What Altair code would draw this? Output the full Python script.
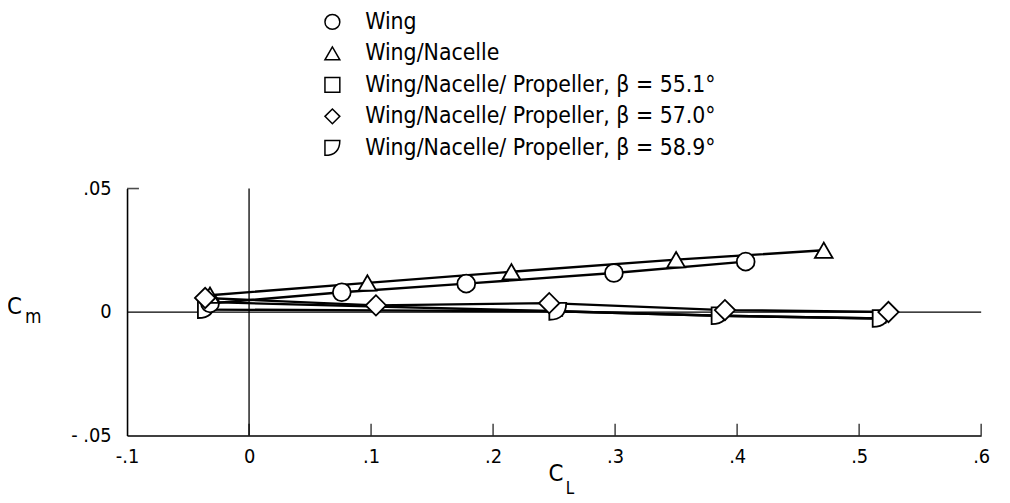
import altair as alt
import pandas as pd

FONT = "DejaVu Sans Condensed, Liberation Sans Narrow, DejaVu Sans"

series_names = [
    "Wing",
    "Wing/Nacelle",
    "Wing/Nacelle/ Propeller, β = 55.1°",
    "Wing/Nacelle/ Propeller, β = 57.0°",
    "Wing/Nacelle/ Propeller, β = 58.9°",
]

# C_L, C_m
wing_cl = [-0.032, 0.076, 0.178, 0.299, 0.407]
wing_cm = [0.0035, 0.0080, 0.0115, 0.0158, 0.0204]

nac_cl = [-0.032, 0.097, 0.215, 0.350, 0.471]
nac_cm = [0.0068, 0.0118, 0.0163, 0.0212, 0.0250]

p551_cl = [-0.032, 0.253, 0.386, 0.518]
p551_cm = [0.0040, 0.0003, -0.0015, -0.0026]

p570_cl = [-0.036, 0.104, 0.246, 0.390, 0.524]
p570_cm = [0.0057, 0.0027, 0.0036, 0.0008, 0.0000]

p589_cl = [-0.035, 0.253, 0.386, 0.518]
p589_cm = [0.0010, 0.0003, -0.0015, -0.0026]

x_ticks = [-0.1, 0.0, 0.1, 0.2, 0.3, 0.4, 0.5, 0.6]
y_ticks = [-0.05, 0.0, 0.05]

series_data = [(wing_cl, wing_cm), (nac_cl, nac_cm), (p551_cl, p551_cm),
               (p570_cl, p570_cm), (p589_cl, p589_cm)]
rows = []
for name, (xs_, ys_) in zip(series_names, series_data):
    for a, b in zip(xs_, ys_):
        rows.append({"series": name, "CL": a, "Cm": b})
df = pd.DataFrame(rows)
legend_df = pd.DataFrame({"series": series_names})

D_PATH = "M -1 -1 L 1 -1 Q 1 1 -1 1 Z"
shape_range = ["circle", "triangle-up", "square", "diamond", D_PATH]
marker_sizes = [324, 320, 81, 420, 289]
draw_order = [2, 4, 0, 1, 3]  # square, D, circle, triangle, diamond on top

xs = alt.Scale(domain=[-0.1, 0.6], nice=False, zero=False)
ys = alt.Scale(domain=[-0.05, 0.05], nice=False, zero=False)
shape_scale = alt.Scale(domain=series_names, range=shape_range)
# legend rows placed above the plot area
legend_rows = alt.Scale(type="point", domain=series_names, range=[-168, -41], padding=0)

common_axis = dict(
    domainColor="black", domainWidth=1.6, ticks=False, grid=False,
    labelFont=FONT, labelColor="black", labelFlush=False,
    titleFont=FONT, titleColor="black", titleFontWeight="normal",
    titleAlign="center", titleBaseline="middle",
)

x_main = alt.Axis(
    orient="bottom", values=x_ticks,
    labelExpr="datum.value == 0 ? '0' : replace(replace(format(datum.value, '.1f'), '0.', '.'), '\u2212', '-')",
    labelFontSize=20, labelPadding=11,
    title="C", titleFontSize=24, titleX=432, titleY=38, **common_axis,
)
y_main = alt.Axis(
    orient="left", values=y_ticks,
    labelExpr="datum.value == 0 ? '0' : replace(replace(format(datum.value, '.2f'), '0.', '.'), '\u2212', '- ')",
    labelFontSize=20, labelPadding=16,
    title="C", titleFontSize=24, titleAngle=0, titleX=-114, titleY=119, **common_axis,
)
x_sub = alt.Axis(
    orient="bottom", labels=False, domain=False, ticks=False, grid=False,
    title="L", titleFont=FONT, titleFontSize=17, titleColor="black",
    titleFontWeight="normal", titleX=446, titleY=53,
    titleAlign="center", titleBaseline="middle",
)
y_sub = alt.Axis(
    orient="left", labels=False, domain=False, ticks=False, grid=False,
    title="m", titleFont=FONT, titleFontSize=19, titleColor="black",
    titleFontWeight="normal", titleAngle=0, titleX=-95, titleY=129,
    titleAlign="center", titleBaseline="middle",
)

base_df = pd.DataFrame({"k": [0]})

zero_line = alt.Chart(base_df).mark_rule(color="black", strokeWidth=1.3).encode(
    x=alt.XDatum(x_ticks[0], type="quantitative", scale=xs, axis=x_sub),
    x2=alt.X2Datum(x_ticks[-1]),
    y=alt.YDatum(0, type="quantitative", scale=ys, axis=y_sub),
)

v_line = alt.Chart(base_df).mark_rule(color="black", strokeWidth=1.3).encode(
    x=alt.XDatum(0, type="quantitative", scale=xs, axis=None),
    y=alt.YDatum(y_ticks[0], type="quantitative", scale=ys, axis=None),
    y2=alt.Y2Datum(y_ticks[-1]),
)

xt = alt.Chart(pd.DataFrame({"v": x_ticks[1:]})).mark_tick(
    orient="vertical", size=12, thickness=1.6, yOffset=-6, color="black"
).encode(
    x=alt.X("v:Q", scale=xs, axis=None),
    y=alt.YDatum(y_ticks[0], type="quantitative", scale=ys, axis=None),
)

yt = alt.Chart(pd.DataFrame({"v": [y_ticks[-1]]})).mark_tick(
    orient="horizontal", size=12, thickness=1.6, xOffset=6, color="black"
).encode(
    y=alt.Y("v:Q", scale=ys, axis=None),
    x=alt.XDatum(x_ticks[0], type="quantitative", scale=xs, axis=None),
)

lines = alt.Chart(df).mark_line(color="black", strokeWidth=2.4).encode(
    x=alt.X("CL:Q", scale=xs, axis=x_main),
    y=alt.Y("Cm:Q", scale=ys, axis=y_main),
    detail="series:N",
)

point_layers = []
for i in draw_order:
    name = series_names[i]
    point_layers.append(
        alt.Chart(df).transform_filter(alt.datum.series == name).mark_point(
            filled=False, fill="white", fillOpacity=1, color="black",
            strokeWidth=1.8, opacity=1, size=marker_sizes[i],
        ).encode(
            x=alt.X("CL:Q", scale=xs, axis=None),
            y=alt.Y("Cm:Q", scale=ys, axis=None),
            shape=alt.Shape("series:N", scale=shape_scale, legend=None),
        )
    )

legend_symbols = alt.Chart(legend_df).mark_point(
    filled=False, fill="white", fillOpacity=1, color="black",
    strokeWidth=1.5, opacity=1, size=225,
).encode(
    x=alt.value(207),
    y=alt.Y("series:O", scale=legend_rows, axis=None),
    shape=alt.Shape("series:N", scale=shape_scale, legend=None),
)

legend_labels = alt.Chart(legend_df).mark_text(
    align="left", baseline="middle", font=FONT, fontSize=23, color="black",
).encode(
    x=alt.value(240),
    y=alt.Y("series:O", scale=legend_rows, axis=None),
    text="series:N",
)

chart = alt.layer(
    zero_line, v_line, xt, yt, lines, *point_layers, legend_symbols, legend_labels
).resolve_axis(
    x="independent", y="independent"
).resolve_scale(
    y="independent"
).properties(
    width=861, height=249,
    autosize=alt.AutoSizeParams(type="none"),
    padding={"left": 120, "top": 180, "right": 21, "bottom": 66},
    background="white",
).configure_view(stroke=None)

chart.save("out.html", embed_options={"renderer": "svg", "actions": False})
